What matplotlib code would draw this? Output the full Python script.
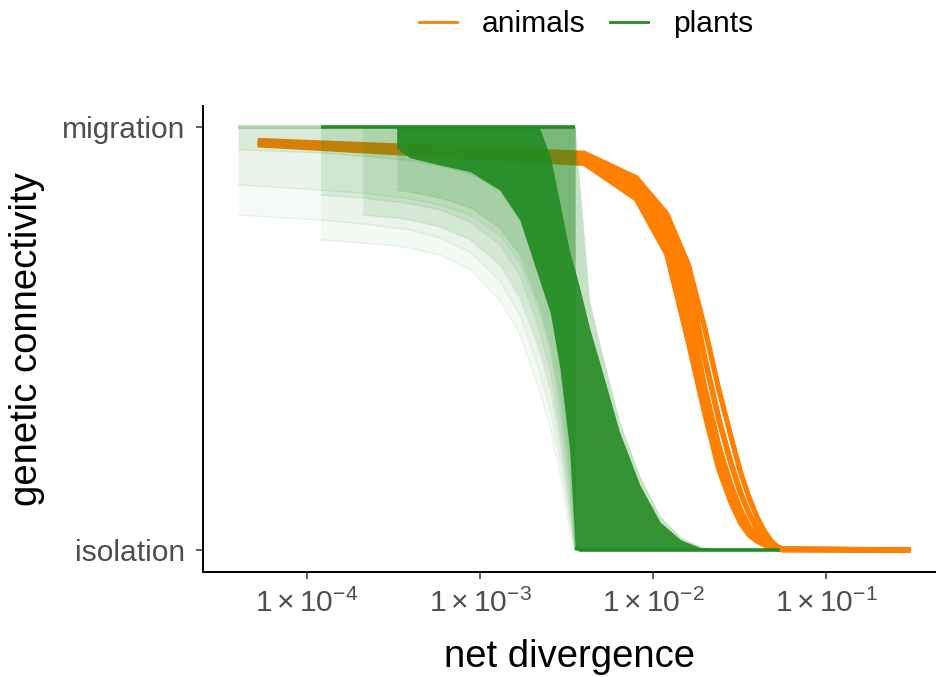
import numpy as np
import matplotlib
matplotlib.use("Agg")
import matplotlib.pyplot as plt
from matplotlib.lines import Line2D
from matplotlib.ticker import FixedLocator, FixedFormatter, NullLocator

plt.rcParams['font.family'] = ['Liberation Sans', 'DejaVu Sans']
plt.rcParams['mathtext.fontset'] = 'custom'
plt.rcParams['mathtext.rm'] = 'Liberation Sans'
plt.rcParams['mathtext.it'] = 'Liberation Sans:italic'

ORANGE = "#FF7F00"
GREEN = "#228B22"
nan = np.nan

# ---- animals: connectivity vs net divergence (a bundle of curves)
animal_x = [5.2e-5, 0.004, 0.008, 0.012, 0.016, 0.020, 0.024, 0.028,
            0.032, 0.036, 0.040, 0.044, 0.048, 0.052, 0.056, 0.31]
animals_1 = [0.958, 0.914, 0.830, 0.700, 0.492, 0.319, 0.191, 0.116, 0.064, 0.035, 0.021, 0.012, 0.006, 0.003, 0.001, 0.0]
animals_2 = [0.959, 0.918, 0.835, 0.712, 0.522, 0.350, 0.219, 0.136, 0.079, 0.045, 0.027, 0.015, 0.008, 0.004, 0.001, 0.0]
animals_3 = [0.961, 0.922, 0.841, 0.725, 0.551, 0.380, 0.246, 0.157, 0.095, 0.054, 0.031, 0.018, 0.009, 0.004, 0.001, 0.0]
animals_4 = [0.962, 0.926, 0.847, 0.740, 0.586, 0.380, 0.246, 0.157, 0.095, 0.054, 0.031, 0.018, 0.009, 0.004, 0.001, 0.0]
animals_5 = [0.964, 0.930, 0.860, 0.760, 0.621, 0.451, 0.310, 0.210, 0.136, 0.085, 0.050, 0.028, 0.014, 0.006, 0.002, 0.0]
animals_6 = [0.966, 0.934, 0.870, 0.778, 0.650, 0.451, 0.310, 0.210, 0.136, 0.085, 0.050, 0.028, 0.014, 0.006, 0.002, 0.0]
animals_7 = [0.968, 0.938, 0.880, 0.795, 0.675, 0.522, 0.380, 0.274, 0.185, 0.123, 0.077, 0.045, 0.022, 0.009, 0.003, 0.0]
animal_curves = [animals_1, animals_2, animals_3, animals_4, animals_5, animals_6, animals_7]

# ---- plants: many faint curves, kept here as density envelopes
plant_x = [4.0e-5, 1.2e-4, 2.1e-4, 3.3e-4, 3.95e-4, 5.9e-4, 8.8e-4, 1.3e-3, 1.7e-3, 2.2e-3, 2.55e-3, 2.9e-3,
           3.3e-3, 3.55e-3, 3.8e-3, 4.3e-3, 4.95e-3, 6.4e-3, 8.4e-3, 1.1e-2, 1.45e-2, 1.9e-2, 3.2e-2, 5.4e-2]
plants_top = [1.0] * 14 + [nan] * 10
plants_core_hi = [nan, nan, nan, 1.0, 1.0, 1.0, 1.0, 1.0, 1.0, 1.0, 0.930, 0.820,
                  0.705, 0.660, 0.615, 0.525, 0.440, 0.280, 0.154, 0.066, 0.024, 0.005, 0.0, 0.0]
plants_core_lo = [nan, nan, nan, 0.950, 0.927, 0.910, 0.894, 0.851, 0.780, 0.640, 0.560, 0.430,
                  0.236, 0.005, 0.0, 0.0, 0.0, 0.0, 0.0, 0.0, 0.0, 0.0, 0.0, 0.0]
plants_fringe_hi = [nan] * 9 + [1.0, 1.0, 1.0, 1.0, 1.0, 0.850, 0.590, 0.485, 0.305, 0.175, 0.080, 0.030, 0.008, 0.0, 0.0]

plants_band_1 = [0.792, 0.780, 0.771, 0.761, 0.757, 0.738, 0.704, 0.638, 0.556, 0.426, 0.331, 0.213, 0.071, 0.0] + [nan] * 10
plants_band_2 = [0.863, 0.851, 0.844, 0.835, 0.830, 0.816, 0.792, 0.745, 0.681, 0.567, 0.473, 0.331, 0.142, 0.0] + [nan] * 10
plants_band_3 = [0.946, 0.939, 0.931, 0.924, 0.920, 0.908, 0.889, 0.851, 0.799, 0.681, 0.591, 0.426, 0.213, 0.0] + [nan] * 10
plants_band_4 = [nan, 0.733, 0.726, 0.719, 0.714, 0.697, 0.662, 0.591, 0.508, 0.378, 0.288, 0.177, 0.047, 0.0] + [nan] * 10
plants_band_5 = [nan, 0.839, 0.832, 0.823, 0.818, 0.804, 0.775, 0.721, 0.650, 0.520, 0.421, 0.284, 0.106, 0.0] + [nan] * 10
plants_band_6 = [nan, nan, 0.792, 0.785, 0.780, 0.764, 0.733, 0.674, 0.596, 0.473, 0.378, 0.248, 0.083, 0.0] + [nan] * 10
plants_band_7 = [nan, nan, nan, 0.851, 0.846, 0.832, 0.809, 0.761, 0.697, 0.579, 0.485, 0.355, 0.165, 0.0] + [nan] * 10
plant_bands = [(plants_band_1, 0.04), (plants_band_2, 0.05), (plants_band_3, 0.09), (plants_band_4, 0.05),
               (plants_band_5, 0.09), (plants_band_6, 0.11), (plants_band_7, 0.14)]

x_ticks = [1e-4, 1e-3, 1e-2, 1e-1]
x_tick_labels = [r'$1\times10^{-4}$', r'$1\times10^{-3}$', r'$1\times10^{-2}$', r'$1\times10^{-1}$']
y_ticks = [0, 1]
y_tick_labels = ["isolation", "migration"]

fig = plt.figure(figsize=(9.36, 6.77), dpi=100)
ax = fig.add_axes([203 / 936, 105 / 677, 733 / 936, 466 / 677])

px = np.array(plant_x)

# animals below
for curve in animal_curves:
    ax.plot(animal_x, curve, color=ORANGE, lw=3.8, solid_capstyle='butt', solid_joinstyle='round', zorder=2)

# plants on top
for band, a in plant_bands:
    ax.fill_between(px, band, plants_top, color=GREEN, alpha=a, lw=0, zorder=3)
    ax.plot(px, band, color=GREEN, alpha=0.08, lw=1.0, zorder=3)
ax.fill_between(px, plants_core_hi, plants_fringe_hi, color=GREEN, alpha=0.25, lw=0, zorder=3)
ax.fill_between(px, plants_core_lo, plants_core_hi, color=GREEN, alpha=0.92, lw=0, zorder=3)
ax.plot(px[:2], plants_top[:2], color=GREEN, alpha=0.35, lw=2.6, solid_capstyle='butt', zorder=3)
ax.plot(px[1:14], plants_top[1:14], color=GREEN, lw=2.6, solid_capstyle='butt', zorder=3)
ax.plot(px[13:], plants_core_lo[13:], color=GREEN, lw=2.6, solid_capstyle='butt', zorder=3)

ax.set_xscale('log')
ax.set_xlim(10 ** -4.601, 10 ** -0.364)
ax.set_ylim(-0.052, 1.0496)

ax.xaxis.set_major_locator(FixedLocator(x_ticks))
ax.xaxis.set_major_formatter(FixedFormatter(x_tick_labels))
ax.xaxis.set_minor_locator(NullLocator())
ax.set_yticks(y_ticks)
ax.set_yticklabels(y_tick_labels)

for s in ['top', 'right']:
    ax.spines[s].set_visible(False)
for s in ['left', 'bottom']:
    ax.spines[s].set_linewidth(1.4)
    ax.spines[s].set_color('black')
ax.tick_params(axis='both', length=5, width=1.1, color='#333333', labelcolor='#4D4D4D', labelsize=21.6)
ax.tick_params(axis='y', pad=8)
ax.tick_params(axis='x', pad=7)

ax.set_xlabel("net divergence", fontsize=27.5, labelpad=15)
ax.set_ylabel("genetic connectivity", fontsize=27.5, labelpad=12)

handles = [Line2D([], [], color=ORANGE, lw=2), Line2D([], [], color=GREEN, lw=2)]
fig.legend(handles, ["animals", "plants"], loc='center', bbox_to_anchor=(586 / 936, 1 - 24 / 677),
           ncol=2, frameon=False, fontsize=21.6, handlelength=1.27, handletextpad=0.83, columnspacing=0.83)

fig.savefig("out.png", dpi=100)
